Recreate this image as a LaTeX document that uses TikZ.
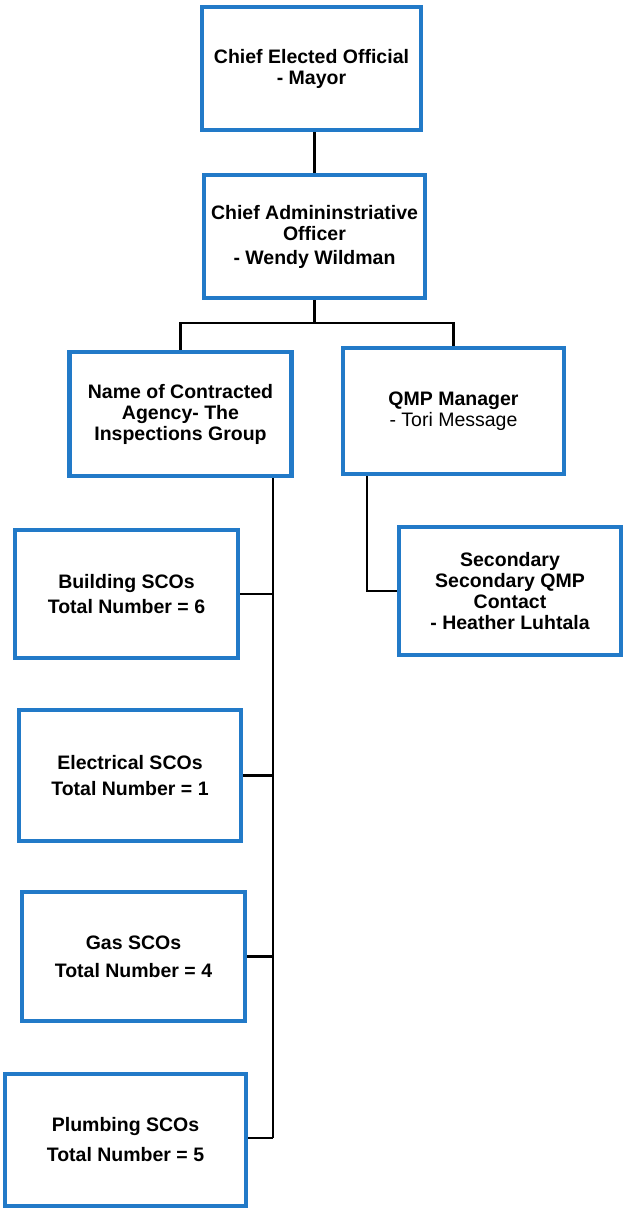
\documentclass[tikz,border=0pt]{standalone}
\usepackage{fontspec}
\setmainfont{Liberation Sans}
\definecolor{boxblue}{RGB}{34,122,200}
\begin{document}
\begin{tikzpicture}[x=1pt,y=-1pt,
  orgbox/.style={draw=boxblue,line width=4.5pt,fill=white,rectangle,align=center,
    inner sep=2pt,font=\fontsize{19.5}{21}\selectfont\bfseries},
  link/.style={draw=black,line width=2.2pt}]
\useasboundingbox (0,0) rectangle (625,1211);
\fill[white] (0,0) rectangle (625,1211);
% boxes: center, outer size
\node[orgbox,minimum width=219pt,minimum height=123pt] (ceo) at (311.5,68.5)
  {Chief Elected Official\\- Mayor};
\node[orgbox,minimum width=221pt,minimum height=123pt] (cao) at (314.5,236.5)
  {Chief Admininstriative\\Officer\\[3pt]- Wendy Wildman};
\node[orgbox,minimum width=222pt,minimum height=124pt] (agency) at (180.5,414)
  {Name of Contracted\\Agency- The\\Inspections Group};
\node[orgbox,minimum width=221pt,minimum height=126pt] (qmp) at (453.5,411)
  {QMP Manager\\{\mdseries - Tori Message}};
\node[orgbox,minimum width=223pt,minimum height=128pt] (bld) at (126.5,594)
  {Building SCOs\\[4pt]Total Number = 6};
\node[orgbox,minimum width=222pt,minimum height=131pt] (elec) at (130,775.5)
  {Electrical SCOs\\[5pt]Total Number = 1};
\node[orgbox,minimum width=223pt,minimum height=129pt] (gas) at (133.5,956.5)
  {Gas SCOs\\[7pt]Total Number = 4};
\node[orgbox,minimum width=241pt,minimum height=132pt] (plb) at (125.5,1140)
  {Plumbing SCOs\\[9pt]Total Number = 5};
\node[orgbox,minimum width=222pt,minimum height=128pt] (sec) at (510,591)
  {Secondary\\Secondary QMP\\Contact\\- Heather Luhtala};
% connectors
\coordinate (bus) at (315,323);
\coordinate (trunk) at (273,1138);
\coordinate (qx) at (367,476);
\draw[link] (cao.north) -- (cao.north |- ceo.south);
\draw[link] (cao.south) -- (cao.south |- bus);
\draw[link] (agency.north) |- (bus) -| (qmp.north);
\draw[link] (agency.south -| trunk) -- (trunk);
\draw[link] (bld.east) -- (bld.east -| trunk);
\draw[link] (elec.east) -- (elec.east -| trunk);
\draw[link] (gas.east) -- (gas.east -| trunk);
\draw[link] (plb.east |- trunk) -- (trunk);
\draw[link] (qmp.south -| qx) |- (sec.west);
\end{tikzpicture}
\end{document}
